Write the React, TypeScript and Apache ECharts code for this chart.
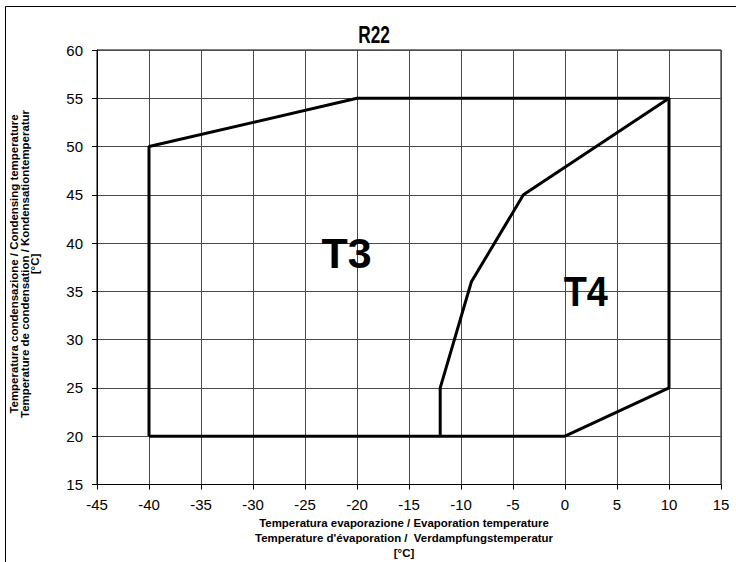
import React, { useEffect, useRef } from "react";
import * as echarts from "echarts";

const title = "R22";
const xTicks = { min: -45, max: 15, interval: 5 };
const yTicks = { min: 15, max: 60, interval: 5 };
const envelope: [number, number][] = [
  [-40, 20],
  [-40, 50],
  [-20, 55],
  [10, 55],
  [10, 25],
  [0, 20],
  [-40, 20],
];
const divider: [number, number][] = [
  [-12, 20],
  [-12, 25],
  [-9, 36],
  [-4, 45],
  [10, 55],
];
const zoneLabels: { name: string; value: [number, number]; scaleX: number }[] = [
  { name: "T3", value: [-21, 39], scaleX: 1 },
  { name: "T4", value: [2, 35], scaleX: 0.88 },
];
const xNameLines = [
  "Temperatura evaporazione / Evaporation temperature",
  "Temperature d'évaporation /  Verdampfungstemperatur",
  "[°C]",
];
const yNameLines = [
  "Temperatura condensazione / Condensing temperature",
  "Temperature de condensation / Kondensationtemperatur",
  "[°C]",
];

const sans = "'Liberation Sans', Arial, sans-serif";

export default function App() {
  const ref = useRef<HTMLDivElement>(null);
  useEffect(() => {
    document.body.style.margin = "0";
    const chart = echarts.init(ref.current!, null, { renderer: "svg" });
    const axisCommon = {
      axisLine: { show: true, onZero: false, lineStyle: { color: "#000", width: 1 } },
      axisTick: { show: true, inside: false, length: 5, lineStyle: { color: "#000" } },
      splitLine: { show: true, lineStyle: { color: "#4a4a4a", width: 1 } },
      axisLabel: { color: "#000", fontSize: 15, fontFamily: sans },
    };
    const baseGraphic: any[] = [
      {
        type: "rect",
        shape: { x: 5.5, y: 6.5, width: 900, height: 700 },
        style: { fill: "none", stroke: "#000", lineWidth: 1 },
        silent: true,
      },
      {
        type: "text",
        x: 374,
        y: 35,
        scaleX: 0.75,
        style: {
          text: title,
          font: `bold 23px ${sans}`,
          fill: "#000",
          align: "center",
          verticalAlign: "middle",
        },
      },
      ...xNameLines.map((t, i) => ({
        type: "text",
        x: 404,
        y: 523 + i * 15,
        scaleX: 1.04,
        style: {
          text: t,
          font: `bold 11px ${sans}`,
          fill: "#000",
          align: "center",
          verticalAlign: "middle",
        },
      })),
      ...yNameLines.map((t, i) => ({
        type: "text",
        x: 14.5 + i * 10.5,
        y: 264,
        rotation: Math.PI / 2,
        scaleX: 1.04,
        style: {
          text: t,
          font: `bold 11px ${sans}`,
          fill: "#000",
          align: "center",
          verticalAlign: "middle",
        },
      })),
    ];
    chart.setOption({
      animation: false,
      backgroundColor: "#fff",
      grid: { left: 97, right: 15, top: 50, bottom: 77.5, show: true, borderColor: "#000", borderWidth: 1 },
      xAxis: {
        type: "value",
        ...xTicks,
        ...axisCommon,
        axisLabel: { ...axisCommon.axisLabel, margin: 12 },
      },
      yAxis: {
        type: "value",
        ...yTicks,
        ...axisCommon,
        axisLabel: { ...axisCommon.axisLabel, margin: 14 },
      },
      graphic: baseGraphic,
      series: [
        {
          type: "line",
          data: envelope,
          symbol: "none",
          lineStyle: { color: "#000", width: 3 },
          z: 5,
        },
        {
          type: "line",
          data: divider,
          symbol: "none",
          lineStyle: { color: "#000", width: 3 },
          z: 5,
        },
      ],
    });
    const labelGraphic = zoneLabels.map((d) => {
      const p = chart.convertToPixel({ gridIndex: 0 }, d.value) as number[];
      return {
        type: "text",
        x: p[0],
        y: p[1],
        scaleX: d.scaleX,
        z: 10,
        style: {
          text: d.name,
          font: `bold 43px ${sans}`,
          fill: "#000",
          align: "center",
          verticalAlign: "middle",
        },
      };
    });
    chart.setOption({ graphic: [...baseGraphic, ...labelGraphic] });
    return () => chart.dispose();
  }, []);
  return <div ref={ref} style={{ width: 736, height: 562 }} />;
}
